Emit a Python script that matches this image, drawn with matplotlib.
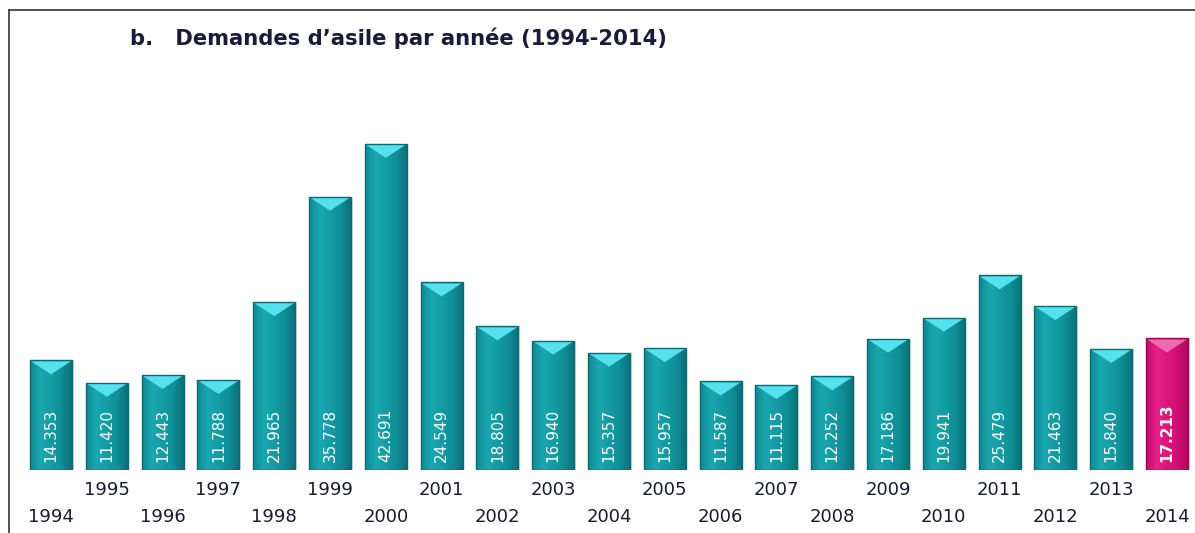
import numpy as np
import matplotlib
matplotlib.use("Agg")
import matplotlib.pyplot as plt
from matplotlib.colors import LinearSegmentedColormap
from matplotlib.lines import Line2D
from matplotlib.transforms import blended_transform_factory

years = ["1994", "1995", "1996", "1997", "1998", "1999", "2000", "2001", "2002",
         "2003", "2004", "2005", "2006", "2007", "2008", "2009", "2010", "2011",
         "2012", "2013", "2014"]
values = [14353, 11420, 12443, 11788, 21965, 35778, 42691, 24549, 18805,
          16940, 15357, 15957, 11587, 11115, 12252, 17186, 19941, 25479,
          21463, 15840, 17213]
value_labels = ["14.353", "11.420", "12.443", "11.788", "21.965", "35.778", "42.691",
                "24.549", "18.805", "16.940", "15.357", "15.957", "11.587", "11.115",
                "12.252", "17.186", "19.941", "25.479", "21.463", "15.840", "17.213"]
title = "b.   Demandes d\u2019asile par année (1994-2014)"

W, H = 1195, 533
fig = plt.figure(figsize=(W / 100, H / 100), dpi=100)
fig.patch.set_facecolor("white")

ax_left_px, ax_right_px = 10, 1195
ax_top_px, ax_bottom_px = 10, 470
ax = fig.add_axes([ax_left_px / W, 1 - ax_bottom_px / H,
                   (ax_right_px - ax_left_px) / W, (ax_bottom_px - ax_top_px) / H])
px_per_unit_x = 55.8
x0_px = 51
px_per_val = 0.00764
ax.axis("off")

teal_cmap = LinearSegmentedColormap.from_list(
    "teal", ["#0e8a92", "#19a8b0", "#149ca4", "#108f97", "#09727a"])
pink_cmap = LinearSegmentedColormap.from_list(
    "pink", ["#c80a6a", "#e8208a", "#de1580", "#d20f76", "#b00860"])

x = np.arange(len(values))
bar_w = 42 / px_per_unit_x
grad = np.linspace(0, 1, 64).reshape(1, -1)
tri_h = 14 / px_per_val

for i, (xi, v) in enumerate(zip(x, values)):
    last = i == len(values) - 1
    cmap = pink_cmap if last else teal_cmap
    edge = "#9a0550" if last else "#0a6a70"
    tri_col = "#f06ab0" if last else "#55e2ee"
    ax.bar(xi + 0.03, v, width=bar_w, color="#c8c8c8", alpha=0.5, zorder=1)
    b = ax.bar(xi, v, width=bar_w, color="none", edgecolor=edge, linewidth=1.0, zorder=3)[0]
    im = ax.imshow(grad, cmap=cmap, aspect="auto",
                   extent=[xi - bar_w / 2, xi + bar_w / 2, 0, v], zorder=2)
    im.set_clip_path(b)
    ax.fill([xi - bar_w / 2 + 0.02, xi + bar_w / 2 - 0.02, xi],
            [v - 120, v - 120, v - tri_h], color=tri_col, zorder=2.5, lw=0)
    ax.text(xi, 8 / px_per_val, value_labels[i], rotation=90, ha="center", va="bottom",
            color="white", fontsize=11, fontweight="bold" if last else "normal",
            zorder=4)

ax.set_xlim((ax_left_px - x0_px) / px_per_unit_x, (ax_right_px - x0_px) / px_per_unit_x)
ax.set_ylim(0, (ax_bottom_px - ax_top_px) / px_per_val)

trans = blended_transform_factory(ax.transData, fig.transFigure)
for i, (xi, yr) in enumerate(zip(x, years)):
    ypx = 517 if i % 2 == 0 else 490
    ax.text(xi, 1 - ypx / H, yr, transform=trans, ha="center", va="center",
            fontsize=13, color="#1a1a30")

fig.text(130 / W, 1 - 38 / H, title, ha="left", va="center", fontsize=15.2,
         fontweight="bold", color="#1a1a3a")

fig.add_artist(Line2D([9 / W, 9 / W], [0, 1 - 10 / H], color="#333333", lw=1.2,
                      transform=fig.transFigure))
fig.add_artist(Line2D([9 / W, 1], [1 - 10 / H, 1 - 10 / H], color="#333333", lw=1.2,
                      transform=fig.transFigure))

fig.savefig("out.png", dpi=100, facecolor="white")
